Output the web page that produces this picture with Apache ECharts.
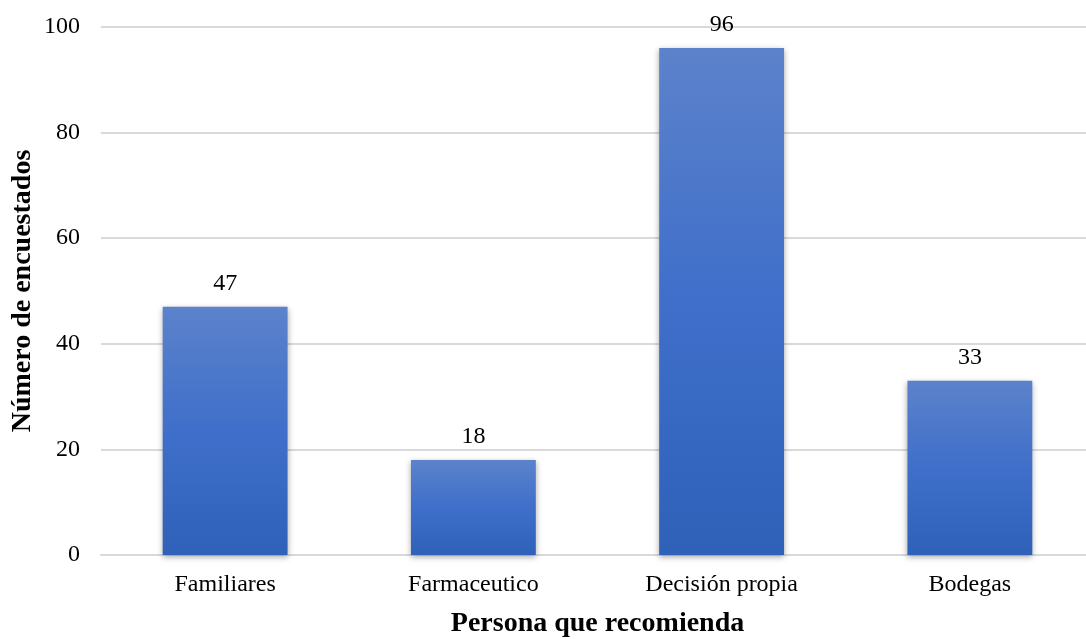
<!DOCTYPE html>
<html>
<head>
<meta charset="utf-8">
<script src="https://cdn.jsdelivr.net/npm/echarts@6/dist/echarts.min.js"></script>
<style>
  html, body { margin: 0; padding: 0; background: #fff; overflow: hidden; }
  #chart { width: 1086px; height: 639px; }
</style>
</head>
<body>
<div id="chart"></div>
<script>
// Who recommended the product: respondents per source
const categories = ['Familiares', 'Farmaceutico', 'Decisión propia', 'Bodegas'];
const respondents = [47, 18, 96, 33];
const yTicks = { min: 0, max: 100, interval: 20 };

const font = '"Liberation Serif", "Times New Roman", serif';
const chart = echarts.init(document.getElementById('chart'));

chart.setOption({
  backgroundColor: '#ffffff',
  animation: false,
  // plot area runs slightly past the right edge of the canvas
  grid: { left: 101, width: 993, top: 27, bottom: 84, containLabel: false, outerBoundsMode: 'none' },
  xAxis: {
    type: 'category',
    data: categories,
    name: 'Persona que recomienda',
    nameLocation: 'middle',
    nameGap: 55,
    nameMoveOverlap: false,
    nameTextStyle: { fontFamily: font, fontSize: 28, fontWeight: 'bold', color: '#000' },
    axisLine: { lineStyle: { color: '#d9d9d9', width: 2 } },
    axisTick: { show: false },
    axisLabel: { fontFamily: font, fontSize: 24, color: '#000', margin: 18 }
  },
  yAxis: {
    type: 'value',
    min: yTicks.min,
    max: yTicks.max,
    interval: yTicks.interval,
    name: 'Número de encuestados',
    nameLocation: 'middle',
    nameGap: 64,
    nameMoveOverlap: false,
    nameTextStyle: { fontFamily: font, fontSize: 28, fontWeight: 'bold', color: '#000' },
    axisLine: { show: false },
    axisTick: { show: false },
    axisLabel: { fontFamily: font, fontSize: 24, color: '#000', margin: 21 },
    splitLine: { lineStyle: { color: '#d9d9d9', width: 2 } }
  },
  series: [{
    type: 'bar',
    data: respondents,
    barWidth: '50.3%',
    itemStyle: {
      color: new echarts.graphic.LinearGradient(0, 0, 0, 1, [
        { offset: 0, color: '#5c82cb' },
        { offset: 0.5, color: '#3f6fca' },
        { offset: 1, color: '#2f61b9' }
      ]),
      shadowColor: 'rgba(0,0,0,0.35)',
      shadowBlur: 6,
      shadowOffsetY: 2
    },
    label: {
      show: true,
      position: 'top',
      distance: 11,
      fontFamily: font,
      fontSize: 24,
      color: '#000'
    }
  }]
});
</script>
</body>
</html>
